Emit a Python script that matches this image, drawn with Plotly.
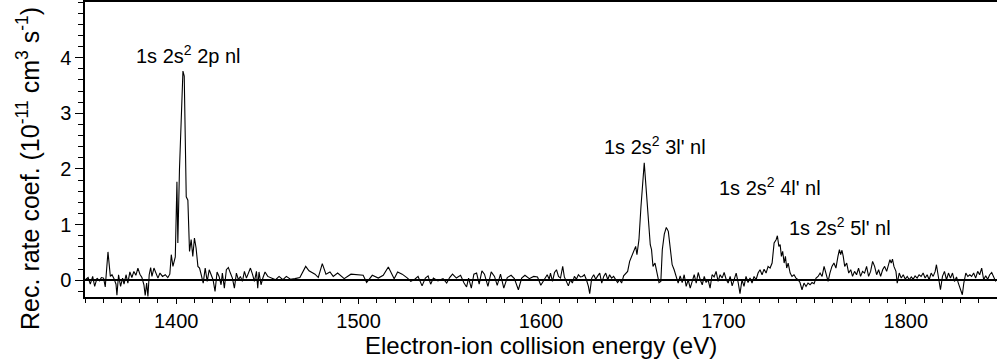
import plotly.graph_objects as go

# Energy (eV) and recombination rate coefficient (1e-11 cm^3 s^-1)
energy_a = [1350.2, 1351.7, 1352.9, 1354.2, 1355.3, 1356.6, 1357.9, 1359.0, 1360.2, 1361.1,
            1362.6, 1363.9, 1364.8, 1365.9, 1367.0, 1367.5, 1368.4, 1369.5, 1370.6, 1371.4,
            1372.5, 1373.5, 1374.6, 1375.7, 1376.8, 1377.9, 1379.0, 1380.1, 1381.2, 1382.3,
            1383.0, 1383.8, 1384.5, 1385.2, 1386.0, 1386.7, 1387.8, 1388.9, 1390.0, 1391.1,
            1392.5, 1394.0, 1395.4, 1396.5]
rate_a = [0.01, 0.05, -0.07, 0.07, -0.11, 0.04, -0.01, 0.05, 0.04, -0.12,
          0.51, 0.07, 0.10, 0.03, -0.07, -0.27, 0.10, -0.11, 0.04, -0.07,
          0.10, -0.05, 0.15, 0.05, 0.16, 0.09, 0.22, 0.11, 0.05, -0.08,
          -0.27, -0.05, -0.29, 0.10, 0.23, 0.07, 0.22, 0.11, 0.04, 0.13,
          0.07, 0.10, 0.05, 0.11]

energy_b = [1397.3, 1398.2, 1399.5, 1400.4, 1400.9, 1401.8, 1402.7, 1403.7, 1404.4, 1405.5,
            1406.4, 1407.3, 1408.2, 1409.1, 1410.0, 1410.9, 1411.9]
rate_b = [0.46, 0.25, 0.42, 1.77, 0.67, 2.00, 2.75, 3.76, 3.67, 1.50,
          1.44, 0.52, 0.73, 0.43, 0.76, 0.58, 0.25]

energy_c = [1412.8, 1413.7, 1414.8, 1415.9, 1417.0, 1418.1, 1419.1, 1420.2, 1421.3, 1422.4,
            1423.5, 1424.6, 1425.3, 1426.4, 1427.5, 1428.6, 1429.7, 1430.8, 1431.9, 1433.0,
            1434.1, 1435.2, 1436.3, 1437.4, 1438.5, 1439.6, 1440.7, 1441.8, 1442.9, 1444.0,
            1444.7, 1445.4, 1446.5, 1447.6, 1448.7, 1450.2, 1452.3, 1454.5, 1456.4, 1458.5,
            1460.4, 1462.6, 1465.1, 1467.8, 1471.0, 1472.8, 1476.1, 1477.9, 1480.1, 1482.1,
            1484.3, 1486.1, 1488.5, 1492.1, 1495.8, 1499.8, 1502.5, 1504.4, 1507.5, 1510.8,
            1513.5, 1516.3, 1519.5, 1521.4, 1523.9, 1526.8, 1528.6, 1530.8, 1532.6, 1534.8,
            1536.6, 1538.1, 1539.5, 1541.0, 1543.5, 1546.3, 1548.3, 1549.9, 1551.5, 1553.6,
            1555.9, 1557.8, 1559.2, 1560.3, 1561.8, 1563.2, 1564.7, 1566.1, 1567.6, 1569.0,
            1570.9, 1572.7, 1574.5, 1576.0, 1577.8, 1579.6, 1581.5, 1583.6, 1585.4, 1587.6,
            1589.4, 1591.2, 1593.6, 1596.0, 1598.1, 1599.9]
rate_c = [0.22, 0.10, -0.05, 0.22, -0.02, 0.19, 0.10, 0.01, -0.20, 0.15,
          0.07, -0.08, 0.13, -0.14, 0.19, 0.23, 0.13, 0.04, -0.14, 0.13,
          0.01, 0.07, -0.02, 0.16, 0.04, 0.13, 0.22, 0.11, -0.02, 0.16,
          -0.14, 0.15, -0.08, 0.05, 0.15, 0.07, 0.04, 0.01, 0.07, 0.01,
          0.07, 0.02, 0.03, 0.05, 0.25, 0.17, 0.11, 0.05, 0.30, 0.11,
          0.15, 0.07, 0.13, 0.03, 0.11, 0.09, 0.09, -0.04, 0.09, 0.04,
          0.09, 0.24, 0.03, 0.15, 0.11, 0.04, -0.02, 0.02, 0.07, -0.10,
          0.04, 0.08, -0.07, 0.04, -0.01, 0.03, -0.05, 0.05, 0.11, 0.04,
          0.09, -0.05, -0.12, 0.04, -0.14, 0.11, 0.13, -0.07, 0.17, 0.11,
          -0.11, 0.15, 0.07, -0.09, 0.11, -0.14, 0.05, 0.09, 0.03, -0.17,
          0.04, 0.09, 0.03, 0.07, 0.06, -0.09]

energy_d = [1601.9, 1603.4, 1604.5, 1605.2, 1606.3, 1607.4, 1608.5, 1609.6, 1610.7, 1611.9,
            1612.8, 1613.9, 1615.0, 1616.1, 1617.2, 1618.3, 1619.4, 1620.5, 1621.6, 1622.7,
            1623.8, 1624.9, 1626.0, 1626.7, 1627.8, 1628.9, 1630.0, 1631.1, 1632.2, 1633.3,
            1634.4, 1635.5, 1636.6, 1637.6, 1638.7, 1639.8, 1640.9, 1642.0, 1643.1, 1644.2,
            1645.3, 1646.4, 1647.5, 1648.6, 1649.7, 1650.8, 1651.9, 1652.6, 1653.7, 1654.8,
            1655.9, 1656.6, 1657.7, 1658.8, 1659.9, 1660.6, 1661.4, 1662.5, 1663.6, 1664.7,
            1665.7, 1666.5, 1667.6, 1668.7, 1669.8, 1670.8, 1671.9, 1673.0, 1674.1, 1675.2,
            1676.3, 1677.4, 1678.5, 1679.6, 1680.7, 1681.8, 1682.9, 1684.0, 1685.1, 1686.2,
            1687.3, 1688.4, 1689.5, 1690.5, 1691.6, 1692.7, 1693.8, 1694.9, 1696.0, 1697.1,
            1698.2, 1699.3, 1700.4, 1701.5, 1702.6, 1703.7, 1704.8, 1705.9, 1707.0, 1708.1,
            1709.1, 1710.2, 1711.3, 1712.4, 1713.5, 1714.6, 1715.7, 1716.8, 1717.9, 1719.0,
            1720.1, 1721.2, 1722.3, 1723.4, 1724.5, 1725.6, 1726.7]
rate_d = [0.01, 0.10, 0.02, 0.13, -0.02, 0.14, 0.19, 0.07, 0.04, 0.25,
          0.06, -0.02, -0.10, 0.01, -0.05, 0.07, 0.02, 0.10, 0.06, 0.07,
          0.10, 0.01, -0.11, -0.24, 0.04, 0.10, 0.02, 0.08, 0.13, -0.05,
          0.07, 0.13, 0.01, 0.10, 0.04, 0.07, 0.01, -0.04, 0.01, -0.05,
          0.08, 0.13, 0.16, 0.34, 0.43, 0.52, 0.61, 0.46, 0.73, 1.32,
          1.86, 2.11, 1.62, 1.14, 0.64, 0.55, 0.25, 0.31, 0.13, -0.04,
          -0.02, 0.55, 0.83, 0.95, 0.88, 0.55, 0.28, 0.19, 0.07, -0.05,
          0.08, -0.04, 0.10, -0.11, 0.01, -0.14, -0.02, 0.10, -0.05, 0.14,
          0.01, -0.08, 0.07, -0.04, 0.01, -0.14, 0.10, 0.06, 0.16, -0.02,
          0.10, 0.04, 0.14, 0.02, -0.05, 0.07, -0.10, 0.02, 0.13, -0.04,
          -0.24, 0.01, -0.11, 0.07, -0.04, 0.04, -0.05, 0.07, 0.01, 0.13,
          0.19, 0.10, 0.20, 0.13, 0.25, 0.22, 0.31]

energy_e = [1727.8, 1728.9, 1729.6, 1730.4, 1731.1, 1731.8, 1732.5, 1733.3, 1734.0, 1734.7,
            1735.5, 1736.6, 1737.6, 1738.7, 1739.8, 1740.9, 1742.0, 1743.1, 1744.2, 1745.3,
            1746.4, 1747.5, 1748.6, 1749.7, 1750.8, 1751.9, 1753.0, 1754.1, 1755.2, 1756.3,
            1757.4, 1758.4, 1759.5, 1760.6, 1761.7, 1762.8, 1763.6, 1764.3, 1765.0, 1765.7,
            1766.5, 1767.6, 1768.7, 1769.8, 1770.8, 1771.9, 1773.0, 1774.1, 1775.2, 1776.3,
            1777.4, 1778.5, 1779.6, 1780.7, 1781.8, 1782.9, 1784.0, 1785.1, 1786.2, 1787.3,
            1788.4, 1789.5, 1790.5, 1791.3, 1792.0, 1792.7, 1793.5, 1794.6, 1795.3, 1796.4,
            1797.5, 1798.6, 1799.7, 1800.8, 1801.9, 1803.0, 1804.0, 1805.1, 1806.2, 1807.3,
            1808.4, 1809.5, 1810.6, 1811.7, 1812.8, 1813.9, 1815.0, 1816.1, 1816.8, 1817.9,
            1819.0, 1820.1, 1821.2, 1822.3, 1823.4, 1824.5, 1825.6, 1826.7, 1827.8, 1828.8,
            1829.9, 1831.0, 1831.8, 1832.9, 1834.0, 1835.1, 1836.1, 1837.2, 1838.3, 1839.4,
            1840.5, 1841.6, 1842.7, 1843.8, 1844.9, 1846.0, 1847.1, 1848.2, 1849.3]
rate_e = [0.67, 0.73, 0.80, 0.61, 0.64, 0.43, 0.52, 0.31, 0.43, 0.22,
          0.31, 0.13, 0.07, 0.10, 0.04, 0.01, -0.04, -0.17, -0.05, -0.11,
          -0.05, -0.08, -0.04, -0.06, 0.04, 0.07, 0.13, 0.07, 0.25, 0.10,
          -0.02, 0.13, 0.25, 0.31, 0.22, 0.43, 0.55, 0.46, 0.54, 0.43,
          0.25, 0.31, 0.13, 0.19, 0.07, 0.16, 0.10, 0.22, 0.07, 0.16,
          0.13, 0.25, 0.07, 0.16, 0.34, 0.25, 0.10, 0.19, 0.07, 0.19,
          0.25, 0.16, 0.28, 0.37, 0.31, 0.38, 0.25, 0.16, -0.05, 0.13,
          0.04, 0.10, 0.02, 0.07, 0.01, 0.06, 0.02, 0.08, 0.04, 0.10,
          0.07, 0.13, 0.04, 0.10, 0.01, 0.13, 0.07, 0.16, 0.28, 0.07,
          -0.17, 0.07, 0.16, 0.01, 0.13, 0.04, 0.13, -0.02, 0.06, -0.05,
          -0.14, -0.26, -0.05, 0.13, 0.07, 0.10, 0.07, 0.13, 0.04, 0.16,
          0.10, 0.22, 0.01, 0.08, 0.02, 0.10, 0.14, 0.04, -0.02]

label_text = ["1s 2s<sup>2</sup> 2p nl", "1s 2s<sup>2</sup> 3l' nl",
              "1s 2s<sup>2</sup> 4l' nl", "1s 2s<sup>2</sup> 5l' nl"]
label_x = [1406.6, 1662.7, 1725.6, 1763.9]
label_y = [4.05, 2.42, 1.69, 0.96]

energy = energy_a + energy_b + energy_c + energy_d + energy_e
rate = rate_a + rate_b + rate_c + rate_d + rate_e

FONT = "Liberation Sans, Arial, sans-serif"

fig = go.Figure()
fig.add_trace(go.Scatter(x=energy, y=rate, mode="lines",
                         line=dict(color="black", width=1.1), showlegend=False,
                         hoverinfo="skip"))

for t, xx, yy in zip(label_text, label_x, label_y):
    fig.add_annotation(x=xx, y=yy, text=t, showarrow=False,
                       font=dict(family=FONT, size=20, color="black"),
                       xanchor="center", yanchor="middle")

fig.add_annotation(xref="paper", yref="paper", x=-0.0625, y=0.434,
                   text="Rec. rate coef. (10<sup>-11</sup> cm<sup>3</sup> s<sup>-1</sup>)",
                   textangle=-90, showarrow=False,
                   font=dict(family=FONT, size=25, color="black"),
                   xanchor="center", yanchor="middle")
fig.add_annotation(xref="paper", yref="paper", x=0.5, y=-0.163,
                   text="Electron-ion collision energy (eV)", showarrow=False,
                   font=dict(family=FONT, size=24, color="black"),
                   xanchor="center", yanchor="middle")

fig.update_layout(
    width=997, height=364,
    margin=dict(l=85, r=0, t=2, b=67),
    paper_bgcolor="white", plot_bgcolor="white",
    font=dict(family=FONT, color="black"),
    xaxis=dict(range=[1350, 1850], tickmode="linear", tick0=1400, dtick=100,
               ticks="outside", ticklen=5, tickwidth=1.2, tickcolor="black",
               minor=dict(dtick=10, tick0=1350, ticks="outside", ticklen=4,
                          tickwidth=1.2, tickcolor="black"),
               showline=True, linecolor="black", linewidth=1.5, mirror=True,
               showgrid=False, zeroline=False,
               tickfont=dict(family=FONT, size=20, color="black")),
    yaxis=dict(range=[-0.3, 5.0], tickmode="array", tickvals=[0, 1, 2, 3, 4],
               ticks="outside", ticklen=8, tickwidth=1.2, tickcolor="black",
               minor=dict(dtick=0.2, tick0=0, ticks="outside", ticklen=5,
                          tickwidth=1.2, tickcolor="black"),
               showline=True, linecolor="black", linewidth=1.5, mirror=False,
               showgrid=False, zeroline=True, zerolinecolor="black",
               zerolinewidth=2,
               tickfont=dict(family=FONT, size=20, color="black")),
)

fig.write_html("out.html")
